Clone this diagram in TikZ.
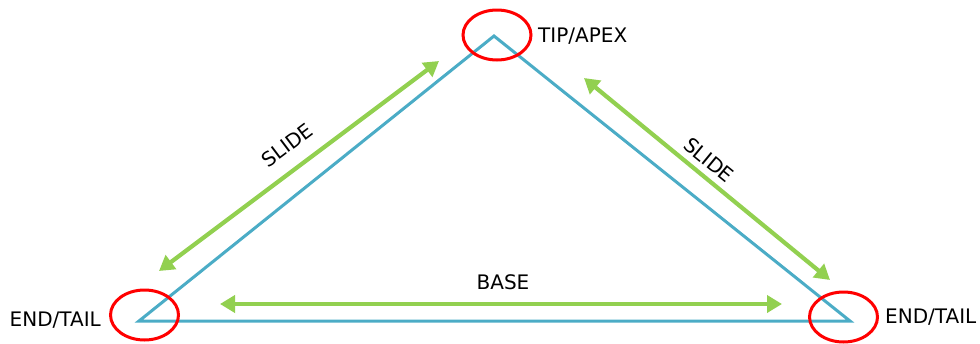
\documentclass[tikz,border=0pt]{standalone}
\usepackage{fontspec}
\setmainfont{DejaVu Sans}
\usetikzlibrary{arrows.meta,shapes.geometric}
\definecolor{triblue}{HTML}{4BACC6}
\definecolor{arrgreen}{HTML}{92D050}
\definecolor{ringred}{HTML}{FF0000}
\begin{document}
\begin{tikzpicture}[x=1pt,y=-1pt,
  lbl/.style={inner sep=0pt,font=\fontsize{20}{23}\selectfont},
  ring/.style={ellipse,draw=ringred,line width=3pt,minimum width=68pt,minimum height=50pt,inner sep=0pt},
  slidearrow/.style={draw=arrgreen,line width=4.2pt,{Triangle[length=15pt,width=17pt]}-{Triangle[length=15pt,width=17pt]}},
  edge/.style={draw=triblue,line width=3pt,line join=miter}]
\useasboundingbox (0,0) rectangle (980,343);
\coordinate (apex) at (494,36);
\coordinate (left) at (139,321);
\coordinate (right) at (850,321);
\draw[edge] (left) -- (apex) -- (right) -- cycle;
\node[ring] (ringapex) at (497,35) {};
\node[ring] (ringleft) at (144.5,315) {};
\node[ring] (ringright) at (843.5,317) {};
\node[lbl,anchor=west] (tiplbl) at (538,36) {TIP/APEX};
\node[lbl,anchor=east] (leftlbl) at (101,320) {END/TAIL};
\node[lbl,anchor=west] (rightlbl) at (885,317) {END/TAIL};
\coordinate (l1) at (159,271);
\coordinate (l2) at (439,61);
\coordinate (r1) at (584,78);
\coordinate (r2) at (830,280);
\coordinate (b1) at (220,304);
\coordinate (b2) at (782,304);
\draw[slidearrow] (l1) -- (l2);
\draw[slidearrow] (r1) -- (r2);
\draw[slidearrow] (b1) -- (b2);
\node[lbl,rotate=37] (slideleft) at (287,145) {SLIDE};
\node[lbl,rotate=-39.4] (slideright) at (709,160) {SLIDE};
\node[lbl] (baselbl) at (503,282) {BASE};
\end{tikzpicture}
\end{document}
